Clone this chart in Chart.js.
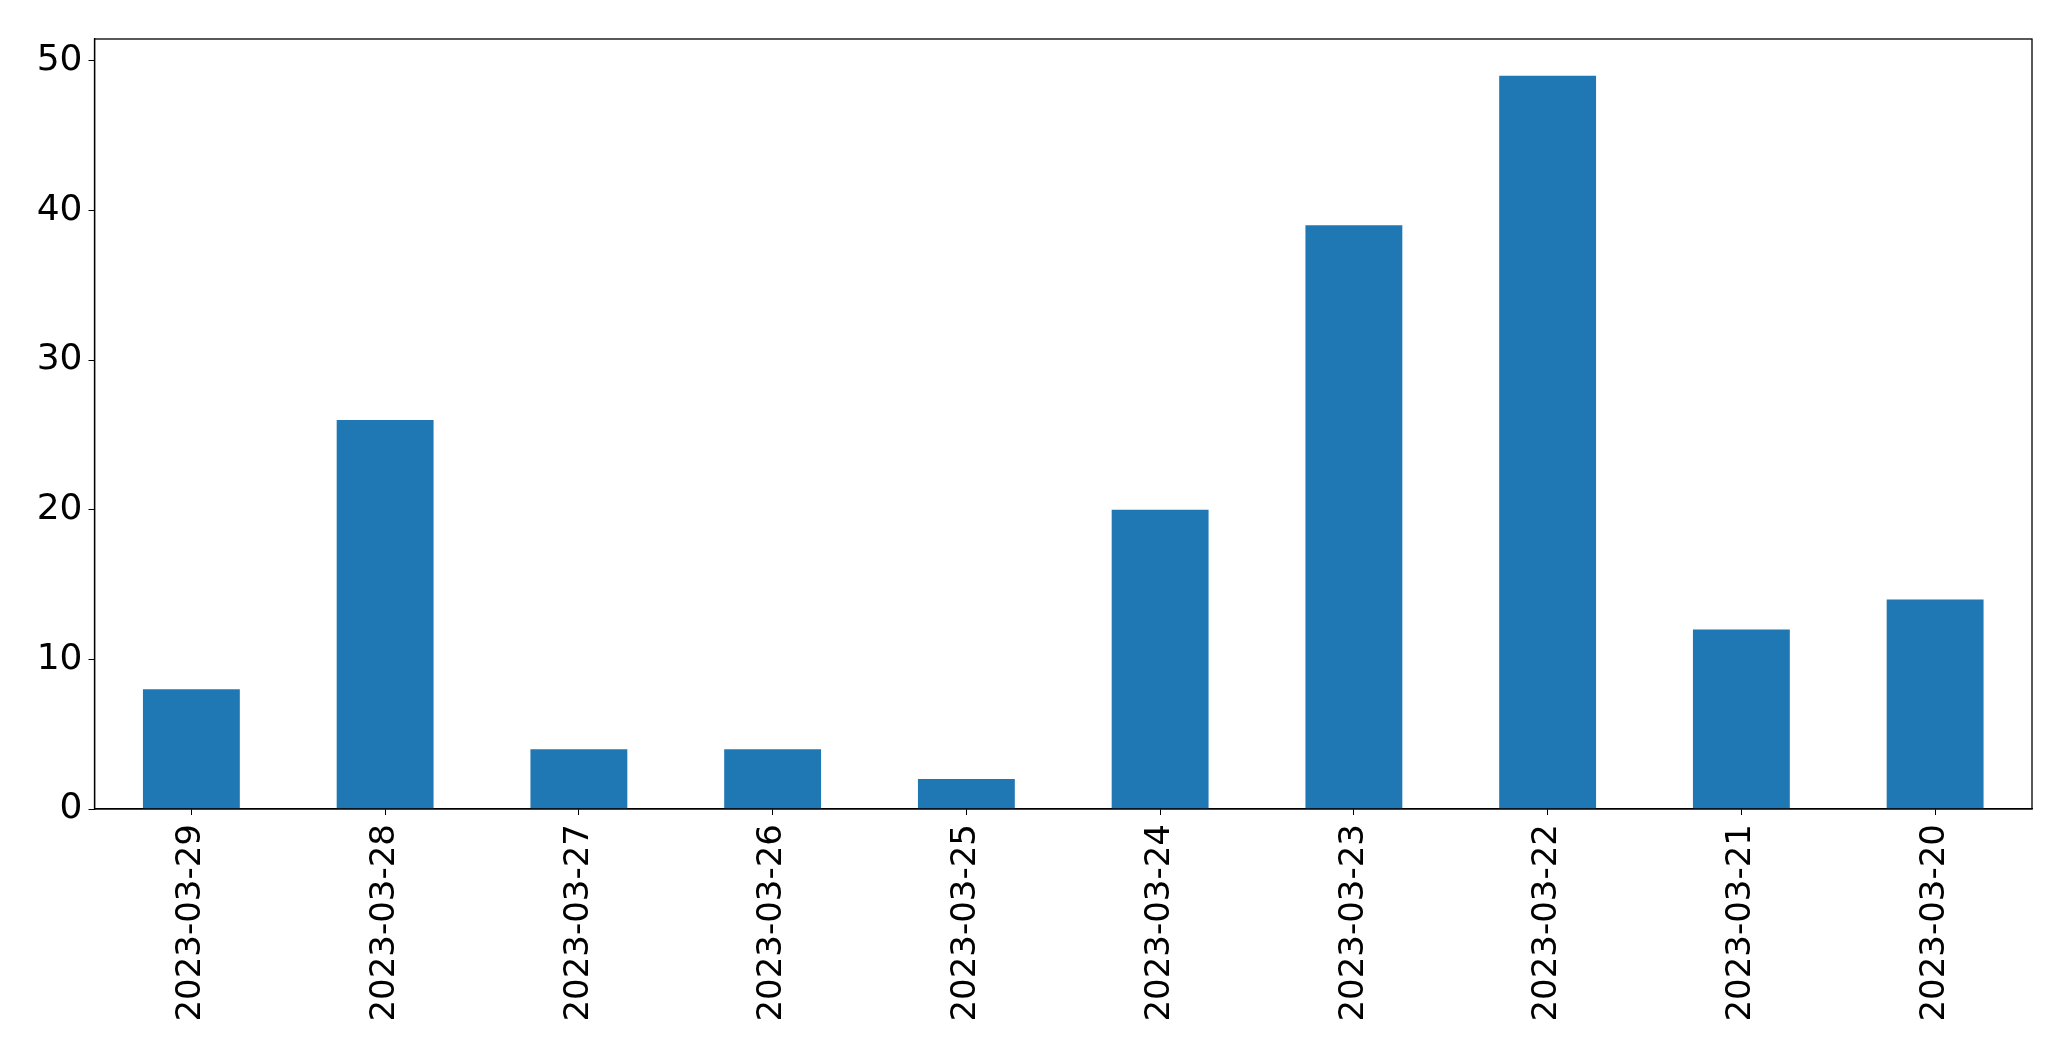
<!DOCTYPE html>
<html>
<head>
<meta charset="utf-8">
<script src="https://cdn.jsdelivr.net/npm/chart.js@4/dist/chart.umd.min.js"></script>
<style>
  html, body { margin: 0; padding: 0; background: #fff; }
  canvas { display: block; }
</style>
</head>
<body>
<canvas id="myChart" width="2071" height="1061"></canvas>
<script>
// dates as they appear on the x axis (newest first)
const dates = [
  '2023-03-29', '2023-03-28', '2023-03-27', '2023-03-26', '2023-03-25',
  '2023-03-24', '2023-03-23', '2023-03-22', '2023-03-21', '2023-03-20'
];
const counts = [8, 26, 4, 4, 2, 20, 39, 49, 12, 14];
const yTicks = [0, 10, 20, 30, 40, 50];
const yMax = 51.45;

// frame round the plot area, like matplotlib's spines
const frame = {
  id: 'frame',
  afterDatasetsDraw(chart) {
    const a = chart.chartArea;
    const ctx = chart.ctx;
    ctx.save();
    ctx.strokeStyle = '#000';
    ctx.lineWidth = 1.3;
    ctx.strokeRect(a.left, a.top, a.right - a.left, a.bottom - a.top);
    ctx.restore();
  }
};

const ctx = document.getElementById('myChart');
new Chart(ctx, {
  type: 'bar',
  data: {
    labels: dates,
    datasets: [{
      data: counts,
      backgroundColor: '#1f77b4',
      borderWidth: 0,
      barPercentage: 0.5,
      categoryPercentage: 1.0
    }]
  },
  options: {
    responsive: false,
    animation: false,
    layout: { padding: { top: 39, right: 39, left: 0, bottom: 0 } },
    plugins: {
      legend: { display: false },
      tooltip: { enabled: false }
    },
    scales: {
      x: {
        offset: true,
        grid: { offset: false, drawOnChartArea: false, drawTicks: true, tickLength: 6, color: '#000' },
        border: { color: '#000', width: 1.3 },
        ticks: {
          color: '#000',
          font: { family: 'DejaVu Sans', size: 34 },
          minRotation: 90,
          maxRotation: 90,
          padding: 9,
          autoSkip: false
        },
        afterFit(scale) { scale.height = 252; }
      },
      y: {
        min: 0,
        max: yMax,
        grid: { drawOnChartArea: false, drawTicks: true, tickLength: 6, color: '#000' },
        border: { color: '#000', width: 1.3 },
        ticks: {
          color: '#000',
          font: { family: 'DejaVu Sans', size: 36 },
          padding: 6,
          stepSize: 10
        },
        afterBuildTicks(scale) {
          scale.ticks = yTicks.map(v => ({ value: v }));
        },
        afterFit(scale) { scale.width = 94.5; }
      }
    }
  },
  plugins: [frame]
});
</script>
</body>
</html>
